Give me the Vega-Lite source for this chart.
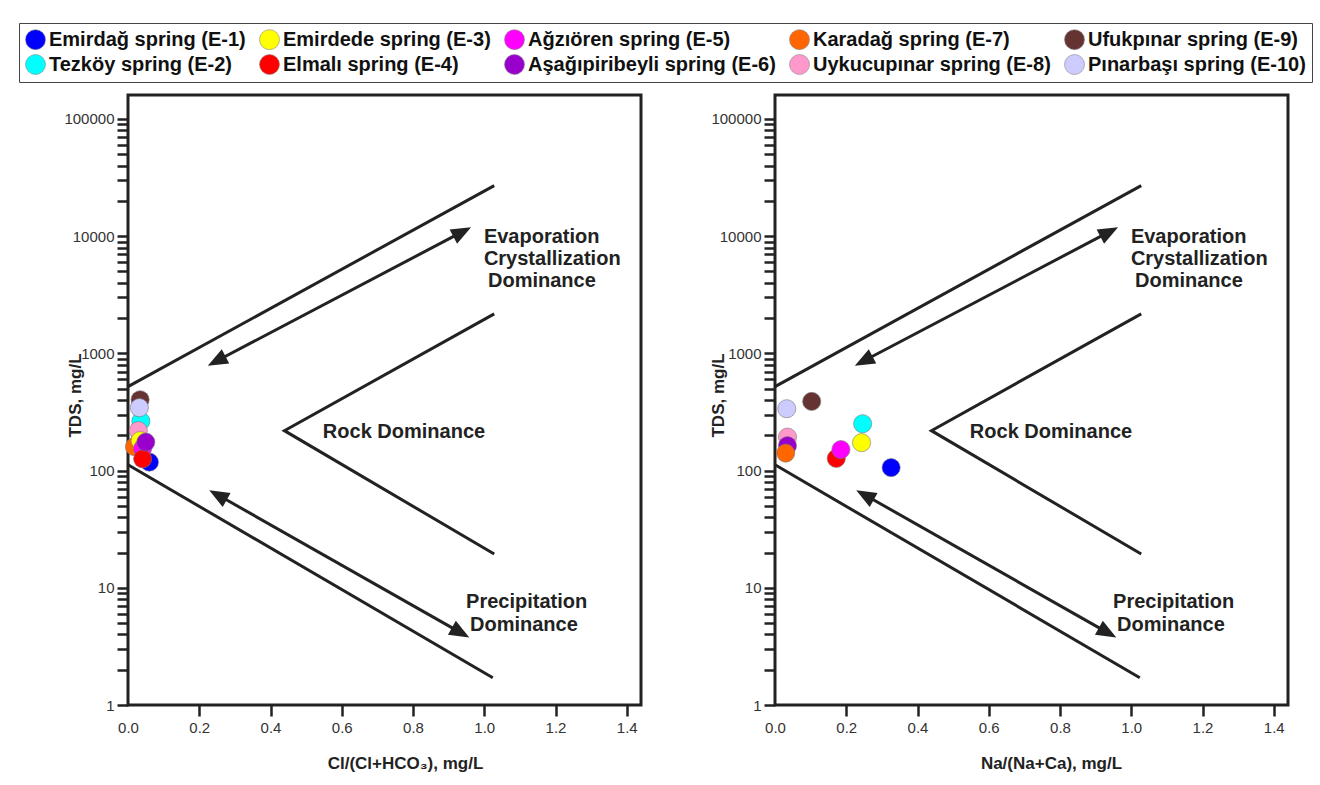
{
  "$schema": "https://vega.github.io/schema/vega-lite/v6.json",
  "background": "white",
  "padding": {"left": 18, "top": 22, "right": 8, "bottom": 10},
  "spacing": 64,
  "config": {
    "font": "Liberation Sans",
    "view": {"stroke": "#222", "strokeWidth": 3},
    "axis": {"grid": false, "domain": false, "tickColor": "#222", "tickWidth": 2.5, "tickSize": 11, "labelFontSize": 15, "labelColor": "#333", "labelFlush": false, "labelOverlap": false, "labelBound": false, "titleFontSize": 17, "titleFontWeight": "bold", "titleColor": "#222", "titleAlign": "center", "titleBaseline": "middle"}
  },
  "datasets": {
    "guides": [
      {"seg": "upper", "ord": 1, "x": 0, "tds": 520},
      {"seg": "upper", "ord": 2, "x": 1.028, "tds": 27000},
      {"seg": "lower", "ord": 1, "x": 0, "tds": 112},
      {"seg": "lower", "ord": 2, "x": 1.024, "tds": 1.71},
      {"seg": "rock", "ord": 1, "x": 1.028, "tds": 2170},
      {"seg": "rock", "ord": 2, "x": 0.439, "tds": 219},
      {"seg": "rock", "ord": 3, "x": 1.028, "tds": 19.4},
      {"seg": "evap", "ord": 1, "x": 0.2486, "tds": 860},
      {"seg": "evap", "ord": 2, "x": 0.938, "tds": 10870},
      {"seg": "prec", "ord": 1, "x": 0.2526, "tds": 61.9},
      {"seg": "prec", "ord": 2, "x": 0.9336, "tds": 4.14}
    ],
    "heads": [
      {"id": "evapHi", "x": 0.963, "tds": 11900},
      {"id": "evapLo", "x": 0.224, "tds": 785},
      {"id": "precHi", "x": 0.228, "tds": 68.1},
      {"id": "precLo", "x": 0.958, "tds": 3.76}
    ],
    "notes": [
      {"t": "Evaporation", "x": 0.999, "tds": 9920},
      {"t": "Crystallization", "x": 0.999, "tds": 6440},
      {"t": "Dominance", "x": 1.0105, "tds": 4176},
      {"t": "Rock Dominance", "x": 0.547, "tds": 214},
      {"t": "Precipitation", "x": 0.949, "tds": 7.58},
      {"t": "Dominance", "x": 0.96, "tds": 4.82}
    ],
    "springs": [
      {"panel": "Cl", "spring": "Tezköy spring (E-2)", "x": 0.036, "tds": 264},
      {"panel": "Cl", "spring": "Uykucupınar spring (E-8)", "x": 0.029, "tds": 219},
      {"panel": "Cl", "spring": "Ufukpınar spring (E-9)", "x": 0.034, "tds": 402},
      {"panel": "Cl", "spring": "Pınarbaşı spring (E-10)", "x": 0.032, "tds": 344},
      {"panel": "Cl", "spring": "Emirdağ spring (E-1)", "x": 0.06, "tds": 118},
      {"panel": "Cl", "spring": "Karadağ spring (E-7)", "x": 0.018, "tds": 160},
      {"panel": "Cl", "spring": "Emirdede spring (E-3)", "x": 0.034, "tds": 180},
      {"panel": "Cl", "spring": "Ağzıören spring (E-5)", "x": 0.041, "tds": 154},
      {"panel": "Cl", "spring": "Elmalı spring (E-4)", "x": 0.041, "tds": 126},
      {"panel": "Cl", "spring": "Aşağıpiribeyli spring (E-6)", "x": 0.05, "tds": 175},
      {"panel": "Na", "spring": "Uykucupınar spring (E-8)", "x": 0.035, "tds": 193},
      {"panel": "Na", "spring": "Aşağıpiribeyli spring (E-6)", "x": 0.035, "tds": 163},
      {"panel": "Na", "spring": "Karadağ spring (E-7)", "x": 0.03, "tds": 141},
      {"panel": "Na", "spring": "Elmalı spring (E-4)", "x": 0.172, "tds": 127},
      {"panel": "Na", "spring": "Ağzıören spring (E-5)", "x": 0.185, "tds": 151},
      {"panel": "Na", "spring": "Emirdede spring (E-3)", "x": 0.243, "tds": 173},
      {"panel": "Na", "spring": "Tezköy spring (E-2)", "x": 0.246, "tds": 251},
      {"panel": "Na", "spring": "Emirdağ spring (E-1)", "x": 0.326, "tds": 106},
      {"panel": "Na", "spring": "Ufukpınar spring (E-9)", "x": 0.103, "tds": 389},
      {"panel": "Na", "spring": "Pınarbaşı spring (E-10)", "x": 0.033, "tds": 337}
    ]
  },
  "hconcat": [
    {
      "width": 513,
      "height": 610,
      "layer": [
        {
          "data": {"name": "guides"},
          "mark": {"type": "line", "color": "#222", "strokeWidth": 3, "strokeCap": "butt"},
          "encoding": {
            "x": {"field": "x", "type": "quantitative", "scale": {"domain": [0, 1.44], "nice": false, "zero": false},
              "axis": {"values": [0, 0.1, 0.2, 0.3, 0.4, 0.5, 0.6, 0.7, 0.8, 0.9, 1.0, 1.1, 1.2, 1.3, 1.4], "format": ".1f", "labelExpr": "round(datum.value*10) % 2 === 0 ? datum.label : ''", "labelPadding": 4, "tickOpacity": {"condition": {"test": "datum.value === 0", "value": 0}, "value": 1}, "title": "Cl/(Cl+HCO₃), mg/L", "titleX": 277, "titleY": 58}},
            "y": {"field": "tds", "type": "quantitative", "scale": {"type": "log", "domain": [1, 160000], "nice": false},
              "axis": {"values": [1, 2, 3, 4, 5, 6, 7, 8, 9, 10, 20, 30, 40, 50, 60, 70, 80, 90, 100, 200, 300, 400, 500, 600, 700, 800, 900, 1000, 2000, 3000, 4000, 5000, 6000, 7000, 8000, 9000, 10000, 20000, 30000, 40000, 50000, 60000, 70000, 80000, 90000, 100000], "format": "d", "labelExpr": "indexof(['1','10','100','1000','10000','100000'], datum.label) >= 0 ? datum.label : ''", "labelPadding": 3, "title": "TDS, mg/L", "titleX": -53, "titleY": 300}},
            "detail": {"field": "seg"},
            "order": {"field": "ord"}
          }
        },
        {"data": {"name": "heads"}, "transform": [{"filter": "datum.id === 'evapHi'"}], "mark": {"type": "point", "shape": "M0,0L-2,-0.8L-2,0.8Z", "size": 400, "filled": true, "color": "#222", "opacity": 1, "angle": -27.7}, "encoding": {"x": {"field": "x", "type": "quantitative"}, "y": {"field": "tds", "type": "quantitative"}}},
        {"data": {"name": "heads"}, "transform": [{"filter": "datum.id === 'evapLo'"}], "mark": {"type": "point", "shape": "M0,0L-2,-0.8L-2,0.8Z", "size": 400, "filled": true, "color": "#222", "opacity": 1, "angle": 152.3}, "encoding": {"x": {"field": "x", "type": "quantitative"}, "y": {"field": "tds", "type": "quantitative"}}},
        {"data": {"name": "heads"}, "transform": [{"filter": "datum.id === 'precHi'"}], "mark": {"type": "point", "shape": "M0,0L-2,-0.8L-2,0.8Z", "size": 400, "filled": true, "color": "#222", "opacity": 1, "angle": 209.5}, "encoding": {"x": {"field": "x", "type": "quantitative"}, "y": {"field": "tds", "type": "quantitative"}}},
        {"data": {"name": "heads"}, "transform": [{"filter": "datum.id === 'precLo'"}], "mark": {"type": "point", "shape": "M0,0L-2,-0.8L-2,0.8Z", "size": 400, "filled": true, "color": "#222", "opacity": 1, "angle": 29.5}, "encoding": {"x": {"field": "x", "type": "quantitative"}, "y": {"field": "tds", "type": "quantitative"}}},
        {"data": {"name": "notes"}, "mark": {"type": "text", "align": "left", "baseline": "middle", "fontSize": 20, "fontWeight": "bold", "color": "#222"}, "encoding": {"x": {"field": "x", "type": "quantitative"}, "y": {"field": "tds", "type": "quantitative"}, "text": {"field": "t"}}},
        {
          "data": {"name": "springs"},
          "transform": [{"filter": "datum.panel === 'Cl'"}],
          "mark": {"type": "point", "filled": true, "opacity": 1, "size": 330, "stroke": "#777", "strokeWidth": 0.6},
          "encoding": {
            "x": {"field": "x", "type": "quantitative"},
            "y": {"field": "tds", "type": "quantitative"},
            "color": {"field": "spring", "type": "nominal",
              "scale": {"domain": ["Emirdağ spring (E-1)", "Tezköy spring (E-2)", "Emirdede spring (E-3)", "Elmalı spring (E-4)", "Ağzıören spring (E-5)", "Aşağıpiribeyli spring (E-6)", "Karadağ spring (E-7)", "Uykucupınar spring (E-8)", "Ufukpınar spring (E-9)", "Pınarbaşı spring (E-10)"],
                "range": ["#0000FF", "#00FFFF", "#FFFF00", "#FF0000", "#FF00FF", "#9900CC", "#FF6600", "#FF99CC", "#663333", "#CCCCFF"]},
              "legend": {"title": null, "orient": "none", "legendX": -109, "legendY": -72, "columns": 5, "gridAlign": "each", "symbolType": "circle", "symbolSize": 400, "symbolStrokeColor": "#888", "symbolStrokeWidth": 0.6, "symbolOpacity": 1, "labelFontSize": 20, "labelFontWeight": "bold", "labelColor": "#111", "labelLimit": 0, "strokeColor": "#444", "fillColor": "white", "padding": 6, "columnPadding": 12, "rowPadding": 2, "labelOffset": 3}}
          }
        }
      ]
    },
    {
      "width": 513,
      "height": 610,
      "layer": [
        {
          "data": {"name": "guides"},
          "mark": {"type": "line", "color": "#222", "strokeWidth": 3, "strokeCap": "butt"},
          "encoding": {
            "x": {"field": "x", "type": "quantitative", "scale": {"domain": [0, 1.44], "nice": false, "zero": false},
              "axis": {"values": [0, 0.1, 0.2, 0.3, 0.4, 0.5, 0.6, 0.7, 0.8, 0.9, 1.0, 1.1, 1.2, 1.3, 1.4], "format": ".1f", "labelExpr": "round(datum.value*10) % 2 === 0 ? datum.label : ''", "labelPadding": 4, "tickOpacity": {"condition": {"test": "datum.value === 0", "value": 0}, "value": 1}, "title": "Na/(Na+Ca), mg/L", "titleX": 276, "titleY": 58}},
            "y": {"field": "tds", "type": "quantitative", "scale": {"type": "log", "domain": [1, 160000], "nice": false},
              "axis": {"values": [1, 2, 3, 4, 5, 6, 7, 8, 9, 10, 20, 30, 40, 50, 60, 70, 80, 90, 100, 200, 300, 400, 500, 600, 700, 800, 900, 1000, 2000, 3000, 4000, 5000, 6000, 7000, 8000, 9000, 10000, 20000, 30000, 40000, 50000, 60000, 70000, 80000, 90000, 100000], "format": "d", "labelExpr": "indexof(['1','10','100','1000','10000','100000'], datum.label) >= 0 ? datum.label : ''", "labelPadding": 3, "title": "TDS, mg/L", "titleX": -57, "titleY": 300}},
            "detail": {"field": "seg"},
            "order": {"field": "ord"}
          }
        },
        {"data": {"name": "heads"}, "transform": [{"filter": "datum.id === 'evapHi'"}], "mark": {"type": "point", "shape": "M0,0L-2,-0.8L-2,0.8Z", "size": 400, "filled": true, "color": "#222", "opacity": 1, "angle": -27.7}, "encoding": {"x": {"field": "x", "type": "quantitative"}, "y": {"field": "tds", "type": "quantitative"}}},
        {"data": {"name": "heads"}, "transform": [{"filter": "datum.id === 'evapLo'"}], "mark": {"type": "point", "shape": "M0,0L-2,-0.8L-2,0.8Z", "size": 400, "filled": true, "color": "#222", "opacity": 1, "angle": 152.3}, "encoding": {"x": {"field": "x", "type": "quantitative"}, "y": {"field": "tds", "type": "quantitative"}}},
        {"data": {"name": "heads"}, "transform": [{"filter": "datum.id === 'precHi'"}], "mark": {"type": "point", "shape": "M0,0L-2,-0.8L-2,0.8Z", "size": 400, "filled": true, "color": "#222", "opacity": 1, "angle": 209.5}, "encoding": {"x": {"field": "x", "type": "quantitative"}, "y": {"field": "tds", "type": "quantitative"}}},
        {"data": {"name": "heads"}, "transform": [{"filter": "datum.id === 'precLo'"}], "mark": {"type": "point", "shape": "M0,0L-2,-0.8L-2,0.8Z", "size": 400, "filled": true, "color": "#222", "opacity": 1, "angle": 29.5}, "encoding": {"x": {"field": "x", "type": "quantitative"}, "y": {"field": "tds", "type": "quantitative"}}},
        {"data": {"name": "notes"}, "mark": {"type": "text", "align": "left", "baseline": "middle", "fontSize": 20, "fontWeight": "bold", "color": "#222"}, "encoding": {"x": {"field": "x", "type": "quantitative"}, "y": {"field": "tds", "type": "quantitative"}, "text": {"field": "t"}}},
        {
          "data": {"name": "springs"},
          "transform": [{"filter": "datum.panel === 'Na'"}],
          "mark": {"type": "point", "filled": true, "opacity": 1, "size": 330, "stroke": "#777", "strokeWidth": 0.6},
          "encoding": {
            "x": {"field": "x", "type": "quantitative"},
            "y": {"field": "tds", "type": "quantitative"},
            "color": {"field": "spring", "type": "nominal",
              "scale": {"domain": ["Emirdağ spring (E-1)", "Tezköy spring (E-2)", "Emirdede spring (E-3)", "Elmalı spring (E-4)", "Ağzıören spring (E-5)", "Aşağıpiribeyli spring (E-6)", "Karadağ spring (E-7)", "Uykucupınar spring (E-8)", "Ufukpınar spring (E-9)", "Pınarbaşı spring (E-10)"],
                "range": ["#0000FF", "#00FFFF", "#FFFF00", "#FF0000", "#FF00FF", "#9900CC", "#FF6600", "#FF99CC", "#663333", "#CCCCFF"]},
              "legend": {"title": null, "orient": "none", "legendX": -109, "legendY": -72, "columns": 5, "gridAlign": "each", "symbolType": "circle", "symbolSize": 400, "symbolStrokeColor": "#888", "symbolStrokeWidth": 0.6, "symbolOpacity": 1, "labelFontSize": 20, "labelFontWeight": "bold", "labelColor": "#111", "labelLimit": 0, "strokeColor": "#444", "fillColor": "white", "padding": 6, "columnPadding": 12, "rowPadding": 2, "labelOffset": 3}}
          }
        }
      ]
    }
  ]
}
